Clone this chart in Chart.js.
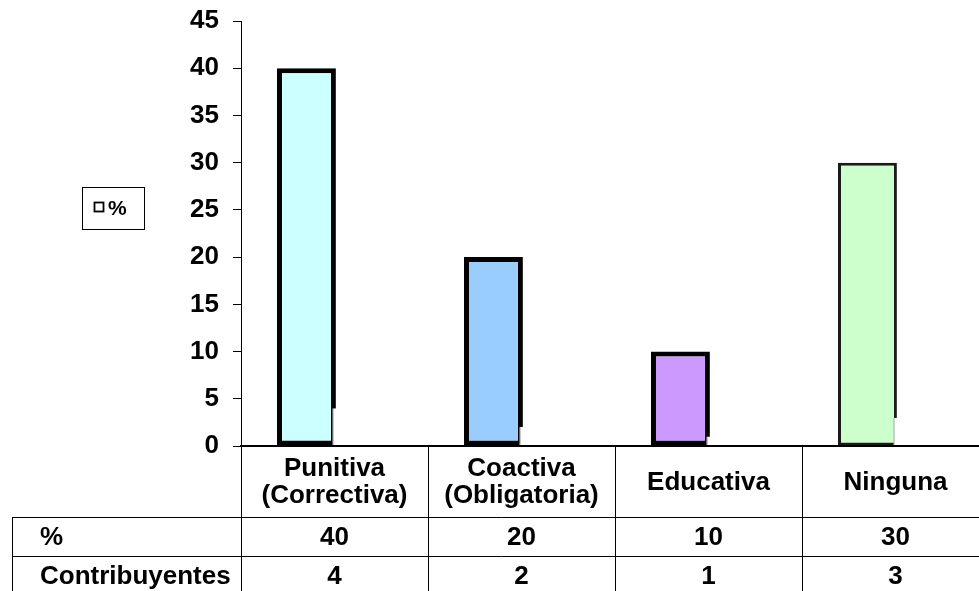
<!DOCTYPE html>
<html>
<head>
<meta charset="utf-8">
<script src="https://cdn.jsdelivr.net/npm/chart.js@4/dist/chart.umd.min.js"></script>
<style>
  html, body { margin: 0; padding: 0; background: #fff; overflow: hidden; }
  #wrap { width: 991px; height: 591px; }
</style>
</head>
<body>
<div id="wrap"><canvas id="chart" width="991" height="591"></canvas></div>
<script>
// Categories and series
const categories = [['Punitiva', '(Correctiva)'], ['Coactiva', '(Obligatoria)'], 'Educativa', 'Ninguna'];
const percentValues = [40, 20, 10, 30];
const contributorCounts = [4, 2, 1, 3];
const seriesLabels = ['%', 'Contribuyentes'];
const yTickMin = 0;
const yTickMax = 45;
const yTickStep = 5;

const barFills = ['#CCFFFF', '#99CCFF', '#CC99FF', '#CCFFCC'];
const barEdges = ['#000000', '#000000', '#000000', '#1a1a1a'];
const barEdgeWidths = [5, 5, 5, 3];

const FONT = 'Liberation Sans, Arial, Helvetica, sans-serif';
const TEXT_SIZE = 26;

// Data table under the axis: two rows, one per series
const dataTable = {
  id: 'dataTable',
  afterDraw(chart) {
    const ctx = chart.ctx;
    const xs = chart.scales.x;
    const n = categories.length;
    const colW = (xs.right - xs.left) / n;
    const rowTops = [517, 556];
    const rowH = 39;
    const tableLeft = 12;
    const bottom = chart.height;
    ctx.save();
    ctx.strokeStyle = '#000';
    ctx.lineWidth = 1;
    ctx.beginPath();
    // column separators from the axis down
    for (let i = 0; i <= n; i++) {
      const x = Math.round(xs.left + i * colW) + 0.5;
      ctx.moveTo(x, xs.top);
      ctx.lineTo(x, bottom);
    }
    // row rules and left edge of the row-label column
    rowTops.forEach(y => {
      ctx.moveTo(tableLeft, y + 0.5);
      ctx.lineTo(chart.width, y + 0.5);
    });
    ctx.moveTo(tableLeft + 0.5, rowTops[0]);
    ctx.lineTo(tableLeft + 0.5, bottom);
    ctx.stroke();

    ctx.fillStyle = '#000';
    ctx.font = 'bold ' + TEXT_SIZE + 'px ' + FONT;
    ctx.textBaseline = 'middle';
    const rows = [chart.data.datasets[0].data, chart.data.datasets[1].data];
    rows.forEach((vals, r) => {
      const cy = rowTops[r] + rowH / 2 + 1;
      ctx.textAlign = 'left';
      ctx.fillText(chart.data.datasets[r].label, 40, cy);
      ctx.textAlign = 'center';
      vals.forEach((v, i) => {
        ctx.fillText(String(v), xs.getPixelForValue(i), cy);
      });
    });
    ctx.restore();
  }
};

// Boxed legend showing the first series
const boxedLegend = {
  id: 'boxedLegend',
  afterDraw(chart) {
    const ctx = chart.ctx;
    ctx.save();
    ctx.strokeStyle = '#000';
    ctx.lineWidth = 1;
    ctx.strokeRect(82.5, 187.5, 62, 42);
    ctx.fillStyle = '#fff';
    ctx.lineWidth = 1.8;
    ctx.fillRect(94, 202, 9, 9);
    ctx.strokeRect(94.5, 202.5, 9, 9);
    ctx.fillStyle = '#000';
    ctx.font = 'bold 21px ' + FONT;
    ctx.textAlign = 'left';
    ctx.textBaseline = 'middle';
    ctx.fillText(chart.data.datasets[0].label, 108, 209);
    ctx.restore();
  }
};

// The white count bars sit over the right edge of the percentage bars
const countBarsOnTop = {
  id: 'countBarsOnTop',
  afterDatasetsDraw(chart) {
    const meta = chart.getDatasetMeta(1);
    meta.data.forEach(el => el.draw(chart.ctx));
  }
};

new Chart(document.getElementById('chart'), {
  type: 'bar',
  data: {
    labels: categories,
    datasets: [
      {
        label: seriesLabels[0],
        data: percentValues,
        backgroundColor: barFills,
        borderColor: barEdges,
        borderWidth: barEdgeWidths,
        borderSkipped: false,
        categoryPercentage: 0.6,
        barPercentage: 1.05
      },
      {
        label: seriesLabels[1],
        data: contributorCounts,
        backgroundColor: '#ffffff',
        borderColor: '#b8b8b8',
        borderWidth: { left: 1, top: 0, right: 0, bottom: 0 },
        borderSkipped: false,
        categoryPercentage: 0.6,
        barPercentage: 1.08
      }
    ]
  },
  options: {
    responsive: false,
    animation: false,
    devicePixelRatio: 1,
    layout: { padding: { top: 21, left: 0, right: 2, bottom: 0 } },
    plugins: {
      legend: { display: false },
      tooltip: { enabled: false }
    },
    scales: {
      x: {
        grid: { display: false },
        border: { display: true, color: '#000', width: 2, z: 1 },
        ticks: {
          color: '#000',
          font: { family: FONT, size: TEXT_SIZE, weight: 'bold', lineHeight: 1.04 },
          padding: 15,
          crossAlign: 'center',
          maxRotation: 0,
          autoSkip: false
        },
        afterFit(scale) {
          scale.height = 145;
          scale.paddingLeft = 0;
          scale.paddingRight = 0;
        }
      },
      y: {
        min: yTickMin,
        max: yTickMax,
        ticks: {
          stepSize: yTickStep,
          color: '#000',
          font: { family: FONT, size: TEXT_SIZE, weight: 'bold' },
          padding: 14
        },
        grid: { display: true, drawOnChartArea: false, tickLength: 8, color: '#000', lineWidth: 1 },
        border: { display: true, color: '#000', width: 1 },
        afterFit(scale) {
          scale.width = 241;
          scale.paddingTop = 0;
          scale.paddingBottom = 0;
        }
      }
    }
  },
  plugins: [countBarsOnTop, dataTable, boxedLegend]
});
</script>
</body>
</html>
